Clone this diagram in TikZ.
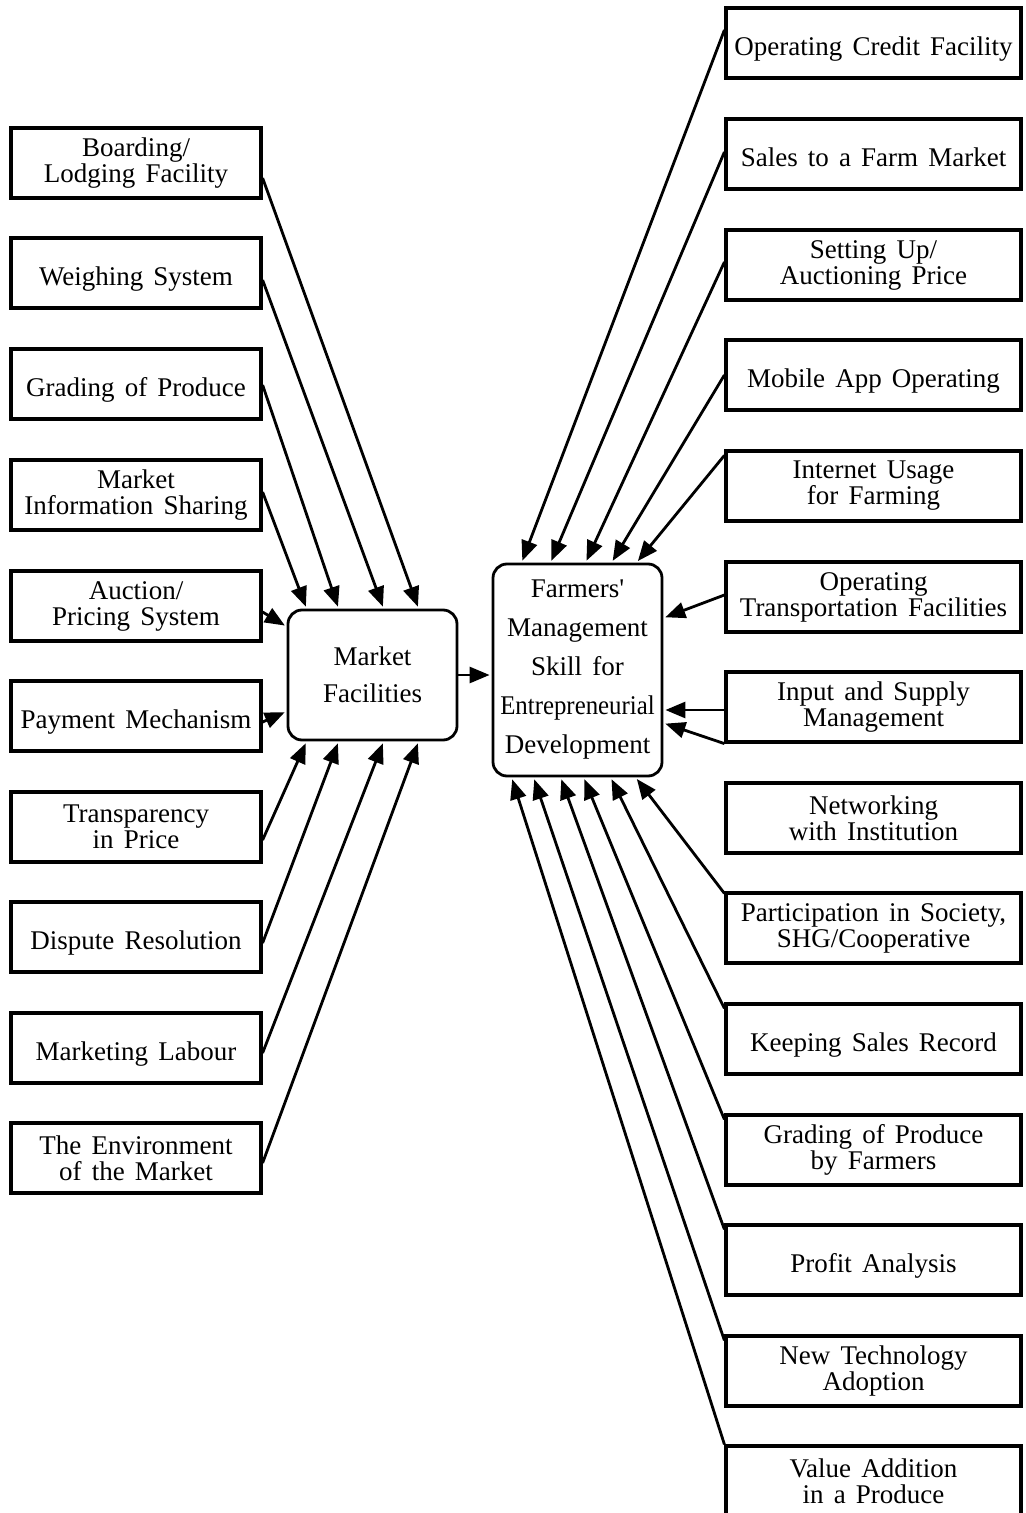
\documentclass[tikz,border=0pt]{standalone}
\usepackage{fontspec}
\setmainfont{Liberation Serif}[WordSpace=1.5]
\usetikzlibrary{arrows.meta,positioning}

\begin{document}
\begin{tikzpicture}[x=0.5pt,y=-0.5pt]
\tikzset{
  lbox/.style={draw,line width=1.6pt,minimum width=125pt,minimum height=35pt,
    inner sep=1pt,align=center,font=\fontsize{13.5}{13}\selectfont},
  rbox/.style={lbox,minimum width=147.5pt},
  oneline/.style={text height=12.5pt,text depth=0pt},
  hub/.style={draw,line width=1.4pt,rounded corners=7pt,minimum width=84.5pt,
    inner sep=1pt,align=center},
  arr/.style={line width=1.4pt,shorten >=1pt,-{Triangle[length=10pt,width=8pt]}},
}
\useasboundingbox (0,0) rectangle (1025,1513);
% left column
\node[lbox] (l1) at (136,163) {Boarding/\\Lodging Facility};
\node[lbox,oneline] (l2) at (136,273) {Weighing System};
\node[lbox,oneline] (l3) at (136,384) {Grading of Produce};
\node[lbox] (l4) at (136,495) {Market\\Information Sharing};
\node[lbox] (l5) at (136,606) {Auction/\\Pricing System};
\node[lbox,oneline] (l6) at (136,716) {Payment Mechanism};
\node[lbox] (l7) at (136,827) {Transparency\\in Price};
\node[lbox,oneline] (l8) at (136,937) {Dispute Resolution};
\node[lbox,oneline] (l9) at (136,1048) {Marketing Labour};
\node[lbox] (l10) at (136,1158) {The Environment\\of the Market};
% the two hubs
\node[hub,minimum height=65pt,font=\fontsize{13.5}{18.5}\selectfont] (mf) at (372.5,675) {Market\\Facilities};
\node[hub,minimum height=106pt,font=\fontsize{13.5}{19.5}\selectfont] (fm) at (577.5,670)
  {Farmers\textquotesingle\\Management\\Skill for\\\scalebox{0.92}[1]{Entrepreneurial}\\Development};
% right column
\node[rbox,oneline] (r1) at (873.5,43) {Operating Credit Facility};
\node[rbox,oneline] (r2) at (873.5,154) {Sales to a Farm Market};
\node[rbox] (r3) at (873.5,265) {Setting Up/\\Auctioning Price};
\node[rbox,oneline] (r4) at (873.5,375) {Mobile App Operating};
\node[rbox] (r5) at (873.5,486) {Internet Usage\\for Farming};
\node[rbox] (r6) at (873.5,597) {Operating\\Transportation Facilities};
\node[rbox] (r7) at (873.5,707) {Input and Supply\\Management};
\node[rbox] (r8) at (873.5,818) {Networking\\with Institution};
\node[rbox] (r9) at (873.5,928) {Participation in Society,\\SHG/Cooperative};
\node[rbox,oneline] (r10) at (873.5,1039) {Keeping Sales Record};
\node[rbox] (r11) at (873.5,1150) {Grading of Produce\\by Farmers};
\node[rbox,oneline] (r12) at (873.5,1260) {Profit Analysis};
\node[rbox] (r13) at (873.5,1371) {New Technology\\Adoption};
\node[rbox] (r14) at (873.5,1481) {Value Addition\\in a Produce};
% left arrows into market facilities
\draw[arr] ([yshift=-7.5pt]l1.east) -- ([xshift=66pt]mf.north west);
\draw[arr] ([yshift=-3.5pt]l2.east) -- ([xshift=48.5pt]mf.north west);
\draw[arr] ([yshift=-0.5pt]l3.east) -- ([xshift=26pt]mf.north west);
\draw[arr] ([yshift=1.5pt]l4.east) -- ([xshift=10pt]mf.north west);
\draw[arr] ([yshift=-3pt]l5.east) -- ([yshift=-9pt]mf.north west);
\draw[arr] ([yshift=-3pt]l6.east) -- ([yshift=15pt]mf.south west);
\draw[arr] ([yshift=-6.5pt]l7.east) -- ([xshift=10pt]mf.south west);
\draw[arr] ([yshift=-3pt]l8.east) -- ([xshift=26pt]mf.south west);
\draw[arr] ([yshift=-2.5pt]l9.east) -- ([xshift=48.5pt]mf.south west);
\draw[arr] ([yshift=-2.5pt]l10.east) -- ([xshift=66pt]mf.south west);
\draw[arr] (mf.east) -- (mf.east -| fm.west);
% right arrows into farmers' skill
\draw[arr] ([yshift=6.5pt]r1.west) -- ([xshift=15pt]fm.north west);
\draw[arr] ([yshift=1pt]r2.west) -- ([xshift=29.5pt]fm.north west);
\draw[arr] ([yshift=1.5pt]r3.west) -- ([xshift=47pt]fm.north west);
\draw[arr] (r4.west) -- ([xshift=60pt]fm.north west);
\draw[arr] ([yshift=-3pt]r5.north west) -- ([xshift=72.5pt]fm.north west);
\draw[arr] ([yshift=1pt]r6.west) -- ([yshift=26pt]fm.east);
\draw[arr] ([yshift=-1.5pt]r7.west) -- ([yshift=-1.5pt]r7.west -| fm.east);
\draw[arr] (r7.south west) -- ([yshift=-26.5pt]fm.east);
\draw[arr] ([yshift=-1pt]r9.north west) -- ([xshift=72pt]fm.south west);
\draw[arr] ([yshift=-3pt]r10.north west) -- ([xshift=59.5pt]fm.south west);
\draw[arr] ([yshift=-3pt]r11.north west) -- ([xshift=46pt]fm.south west);
\draw[arr] ([yshift=-3pt]r12.north west) -- ([xshift=34.5pt]fm.south west);
\draw[arr] ([yshift=-3pt]r13.north west) -- ([xshift=21pt]fm.south west);
\draw[arr] (r14.north west) -- ([xshift=10pt]fm.south west);
\end{tikzpicture}
\end{document}
